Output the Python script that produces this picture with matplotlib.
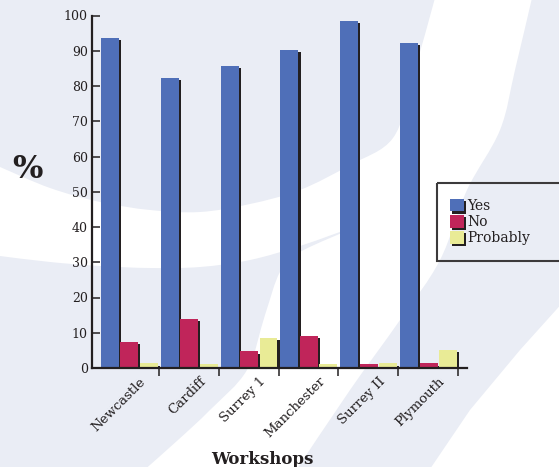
import numpy as np
import matplotlib
matplotlib.use("Agg")
import matplotlib.pyplot as plt
from matplotlib.path import Path
from matplotlib.patches import PathPatch, Rectangle
from matplotlib.transforms import Affine2D
import matplotlib.patheffects as pe

plt.rcParams['font.family'] = 'DejaVu Serif'

workshops = ["Newcastle", "Cardiff", "Surrey 1", "Manchester", "Surrey II", "Plymouth"]
yes = [93.5, 82.3, 85.6, 90.2, 98.4, 92.1]
no = [7.3, 13.8, 4.7, 9.0, 1.0, 1.3]
probably = [1.3, 1.0, 8.4, 1.0, 1.3, 5.0]
series_names = ["Yes", "No", "Probably"]

INK = "#231f20"
SWOOSH = "#eaedf5"
colors = ["#4f6fb8", "#c0255a", "#e9eb96"]

W, H = 559, 467
fig = plt.figure(figsize=(W / 100, H / 100), dpi=100)
fig.patch.set_facecolor("white")

# decorative swooshes, drawn in pixel units (y pointing down)
px = Affine2D().scale(1 / W, -1 / H).translate(0, 1) + fig.transFigure


def swoosh(curve, tail):
    pts = np.asarray(curve, float)
    verts = [pts[0]]
    codes = [Path.MOVETO]
    n = len(pts)
    for i in range(n - 1):
        p0 = pts[max(i - 1, 0)]
        p1, p2 = pts[i], pts[i + 1]
        p3 = pts[min(i + 2, n - 1)]
        verts += [p1 + (p2 - p0) / 6, p2 - (p3 - p1) / 6, p2]
        codes += [Path.CURVE4] * 3
    for t in tail:
        verts.append(t)
        codes.append(Path.LINETO)
    verts.append(pts[0])
    codes.append(Path.CLOSEPOLY)
    return PathPatch(Path(verts, codes), transform=px, facecolor=SWOOSH,
                     edgecolor="none", zorder=-5)


disc = swoosh([(0, 167), (50, 188), (100, 202), (150, 210), (200, 212), (250, 204),
               (300, 190), (350, 165), (393, 138), (412, 80), (435, -2)],
              [(-5, -5), (-5, 167)])
crescent = swoosh([(0, 256), (50, 262), (100, 266), (150, 268), (200, 267), (250, 260),
                   (300, 246), (355, 227), (300, 252), (280, 272), (265, 315),
                   (247, 370), (210, 410), (178, 440), (142, 472)],
                  [(-5, 472), (-5, 256)])
stripe = swoosh([(532, -2), (515, 70), (500, 130), (467, 190), (440, 260), (400, 320),
                 (350, 390), (295, 472)],
                [(428, 472), (470, 410), (520, 350), (565, 300), (565, -5)])
for p in (disc, crescent, stripe):
    fig.patches.append(p)

ax = fig.add_axes([92 / W, 1 - 368 / H, 375 / W, 352.5 / H])
ax.set_facecolor("none")

shadow = [pe.SimplePatchShadow(offset=(1.5, -1.5), shadow_rgbFace=INK, alpha=1.0), pe.Normal()]
x = np.arange(len(workshops))
offsets = [0.033, 0.358, 0.683]
for vals, off, col, name in zip([yes, no, probably], offsets, colors, series_names):
    ax.bar(x + off, vals, width=0.30, align="edge", color=col, label=name,
           path_effects=shadow, zorder=2)

ax.set_xlim(-0.117, 6.15)
ax.set_ylim(0, 100)
for s in ("top", "right"):
    ax.spines[s].set_visible(False)
for s in ("left", "bottom"):
    ax.spines[s].set_color(INK)
    ax.spines[s].set_linewidth(1.6)
    ax.spines[s].set_zorder(3)

ax.set_yticks(np.arange(0, 101, 10))
ax.tick_params(axis="y", direction="in", length=5.5, width=1.1, color=INK,
               labelsize=9, labelcolor=INK, pad=3)
ax.set_xticks(np.arange(1, len(workshops) + 1))
ax.set_xticklabels([])
ax.tick_params(axis="x", which="major", direction="out", length=6, width=1.1, color=INK)
ax.set_xticks(x + 0.67, workshops, minor=True)
ax.tick_params(axis="x", which="minor", length=0, labelsize=9.5, labelcolor=INK, pad=5)
for lab in ax.get_xticklabels(minor=True):
    lab.set_rotation(45)
    lab.set_ha("right")
    lab.set_rotation_mode("anchor")

fig.text(27 / W, 1 - 170 / H, "%", fontsize=23, fontweight="bold", color=INK,
         ha="center", va="center")
fig.text(262 / W, 1 - 464 / H, "Workshops", fontsize=12, fontweight="bold", color=INK,
         ha="center", va="baseline")

fig.patches.append(Rectangle((437, 183), 140, 78, transform=px, facecolor="none",
                             edgecolor="#3c3a3b", linewidth=1.5, zorder=1))
leg = ax.legend(frameon=False, fontsize=10, handlelength=1.0, handleheight=1.0,
                handletextpad=0.25, labelspacing=0.15, borderpad=0, borderaxespad=0,
                loc="upper left", bbox_to_anchor=(450 / W, 1 - 199 / H),
                bbox_transform=fig.transFigure)
for t in leg.get_texts():
    t.set_color(INK)

fig.savefig("out.png", dpi=100)
